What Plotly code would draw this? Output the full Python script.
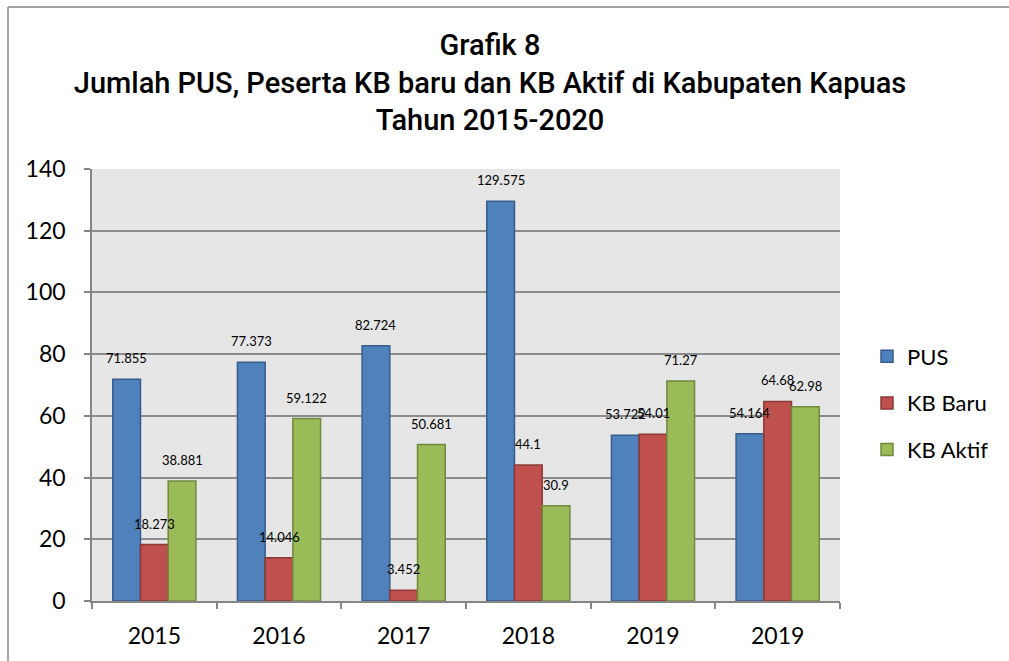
import plotly.graph_objects as go

categories = ["2015", "2016", "2017", "2018", "2019", "2019"]
pus = [71.855, 77.373, 82.724, 129.575, 53.722, 54.164]
kb_baru = [18.273, 14.046, 3.452, 44.1, 54.01, 64.68]
kb_aktif = [38.881, 59.122, 50.681, 30.9, 71.27, 62.98]
pus_labels = ["71.855", "77.373", "82.724", "129.575", "53.722", "54.164"]
baru_labels = ["18.273", "14.046", "3.452", "44.1", "54.01", "64.68"]
aktif_labels = ["38.881", "59.122", "50.681", "30.9", "71.27", "62.98"]
y_ticks = [0, 20, 40, 60, 80, 100, 120, 140]

series = [
    ("PUS", pus, pus_labels, "#4f81bd", "#385d8a"),
    ("KB Baru", kb_baru, baru_labels, "#c0504d", "#8c3836"),
    ("KB Aktif", kb_aktif, aktif_labels, "#9bbb59", "#71893f"),
]

x = list(range(len(categories)))
BARGAP = 1.5 / 4.5
bw = (1 - BARGAP) / 3

fig = go.Figure()
annotations = []
for j, (name, vals, labs, fill, line) in enumerate(series):
    fig.add_trace(go.Bar(
        x=x, y=vals, name=name, legendgroup=name,
        marker=dict(color=fill, line=dict(color=line, width=1.5)),
    ))
    for i, (v, t) in enumerate(zip(vals, labs)):
        annotations.append(dict(
            x=i + (j - 1) * bw, y=v, xref="x", yref="y", text=t,
            showarrow=False, yanchor="middle", yshift=21,
            font=dict(family="Lato", size=13, color="#000000"),
        ))

L, R, T, B = 92, 169, 169, 60
W, H = 1009, 661
pw, ph = W - L - R, H - T - B

border = dict(color="#868686", width=1.5)
fx = lambda px: (px - L) / pw
fy = lambda py: (601 - py) / ph

fig.update_layout(
    width=W, height=H,
    margin=dict(l=L, r=R, t=T, b=B),
    paper_bgcolor="white", plot_bgcolor="#e6e6e6",
    barmode="group", bargap=BARGAP, bargroupgap=0,
    title=dict(
        text="Grafik 8<br>Jumlah PUS, Peserta KB baru dan KB Aktif di Kabupaten Kapuas<br>Tahun 2015-2020",
        xref="container", yref="container", x=490 / W, y=1 - 55 / H,
        xanchor="center", yanchor="middle",
        font=dict(family="Roboto", size=29, weight=500, color="#000000"),
    ),
    legend=dict(
        x=(867 - L) / pw, y=(601 - 403) / ph, xanchor="left", yanchor="middle",
        font=dict(family="Lato", size=22, color="#000000"),
        traceorder="grouped", tracegroupgap=15, bgcolor="rgba(0,0,0,0)",
    ),
    xaxis=dict(
        range=[-0.5, len(categories) - 0.5], tickmode="array", tickvals=x,
        ticktext=categories, ticks="", showgrid=False,
        showline=True, linecolor="#868686", linewidth=1.5,
        ticklabelstandoff=14,
        tickfont=dict(family="Lato", size=23, color="#000000"),
        minor=dict(tick0=-0.5, dtick=1, ticks="outside", ticklen=6,
                   tickcolor="#868686", tickwidth=1.5, showgrid=False),
        zeroline=False,
    ),
    yaxis=dict(
        range=[0, 140], tickmode="array", tickvals=y_ticks,
        showgrid=True, gridcolor="#8c8c8c", gridwidth=1.5,
        showline=True, linecolor="#868686", linewidth=1.5,
        ticks="outside", ticklen=6, tickcolor="#868686", tickwidth=1.5,
        ticklabelstandoff=14,
        tickfont=dict(family="Lato", size=23, color="#000000"),
        zeroline=False,
    ),
    annotations=annotations,
    shapes=[
        dict(type="line", xref="paper", yref="paper",
             x0=fx(8), x1=fx(W + 20), y0=fy(7), y1=fy(7), line=border),
        dict(type="line", xref="paper", yref="paper",
             x0=fx(8), x1=fx(8), y0=fy(7), y1=fy(H + 20), line=border),
    ],
)

fig.write_html(
    "out.html", config={"displayModeBar": False},
    post_script="document.body.style.margin='0';"
                "document.documentElement.style.overflow='hidden';"
                "document.body.style.overflow='hidden';",
)
